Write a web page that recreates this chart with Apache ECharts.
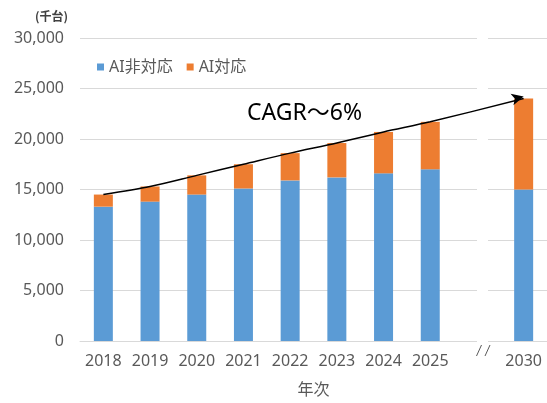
<!DOCTYPE html>
<html>
<head>
<meta charset="utf-8">
<script src="https://cdn.jsdelivr.net/npm/echarts@6/dist/echarts.min.js"></script>
<style>
  html, body { margin: 0; padding: 0; background: #fff; }
  #chart { width: 547px; height: 403px; }
</style>
</head>
<body>
<div id="chart"></div>
<script>
// categories: the empty slot is the axis break before 2030
const years = ["2018", "2019", "2020", "2021", "2022", "2023", "2024", "2025", "", "2030"];
const nonAI = [13300, 13800, 14500, 15100, 15900, 16200, 16600, 17000, null, 15000];
const withAI = [1200, 1500, 1900, 2400, 2700, 3400, 4100, 4700, null, 9000];
const yTicks = { min: 0, max: 30000, interval: 5000 };

const totals = nonAI.map((v, i) => (v == null ? null : v + withAI[i]));
const trend = totals.map((v, i) =>
  i === totals.length - 1
    ? { value: v, symbol: "arrow", symbolSize: [9, 12], symbolRotate: -76, symbolOffset: [0, -2] }
    : v
);

const gray = "#595959";
const font = "'Noto Sans', 'Noto Sans CJK JP', sans-serif";

const chart = echarts.init(document.getElementById("chart"));
chart.setOption({
  animation: false,
  textStyle: { fontFamily: font },
  grid: { left: 80, top: 38, bottom: 58, width: 473 },
  legend: {
    left: 92,
    top: 54,
    icon: "rect",
    itemWidth: 7,
    itemHeight: 7,
    itemGap: 14,
    textStyle: { color: gray, fontSize: 16, fontFamily: font },
    data: ["AI非対応", "AI対応"],
  },
  xAxis: {
    type: "category",
    data: years,
    name: "年次",
    nameLocation: "middle",
    nameGap: 41,
    nameTextStyle: { color: gray, fontSize: 16 },
    axisLine: { lineStyle: { color: "#d9d9d9" } },
    axisTick: { show: false },
    axisLabel: { color: gray, fontSize: 16, margin: 12, interval: 0 },
  },
  yAxis: {
    type: "value",
    min: yTicks.min,
    max: yTicks.max,
    interval: yTicks.interval,
    axisLine: { show: false },
    axisTick: { show: false },
    splitLine: { lineStyle: { color: "#d9d9d9", width: 1 } },
    axisLabel: {
      color: gray,
      fontSize: 16,
      margin: 16,
      formatter: (v) => v.toLocaleString("en-US"),
    },
  },
  graphic: [
    // break gap in grid lines / axis
    { type: "rect", z: 1, shape: { x: 477, y: 30, width: 11, height: 318 }, style: { fill: "#fff" } },
    { type: "line", z: 3, shape: { x1: 476.5, y1: 356, x2: 481.5, y2: 345 }, style: { stroke: gray, lineWidth: 1 } },
    { type: "line", z: 3, shape: { x1: 485, y1: 356, x2: 490, y2: 345 }, style: { stroke: gray, lineWidth: 1 } },
    {
      type: "text", left: 35, top: 10,
      style: { text: "(千台)", fill: "#404040", font: "bold 12px 'Noto Sans CJK JP', sans-serif" },
    },
    {
      type: "text", left: 247, top: 102,
      style: { text: "CAGR～6%", fill: "#000", font: "23px 'Noto Sans', 'Noto Sans CJK JP', sans-serif" },
    },
  ],
  series: [
    {
      name: "AI非対応",
      type: "bar",
      stack: "total",
      barWidth: 19,
      itemStyle: { color: "#5B9BD5" },
      data: nonAI,
    },
    {
      name: "AI対応",
      type: "bar",
      stack: "total",
      barWidth: 19,
      itemStyle: { color: "#ED7D31" },
      data: withAI,
    },
    {
      name: "trend",
      type: "line",
      smooth: 0.3,
      connectNulls: true,
      symbol: "none",
      z: 5,
      lineStyle: { color: "#000", width: 1.5 },
      itemStyle: { color: "#000" },
      data: trend,
    },
  ],
});
</script>
</body>
</html>
